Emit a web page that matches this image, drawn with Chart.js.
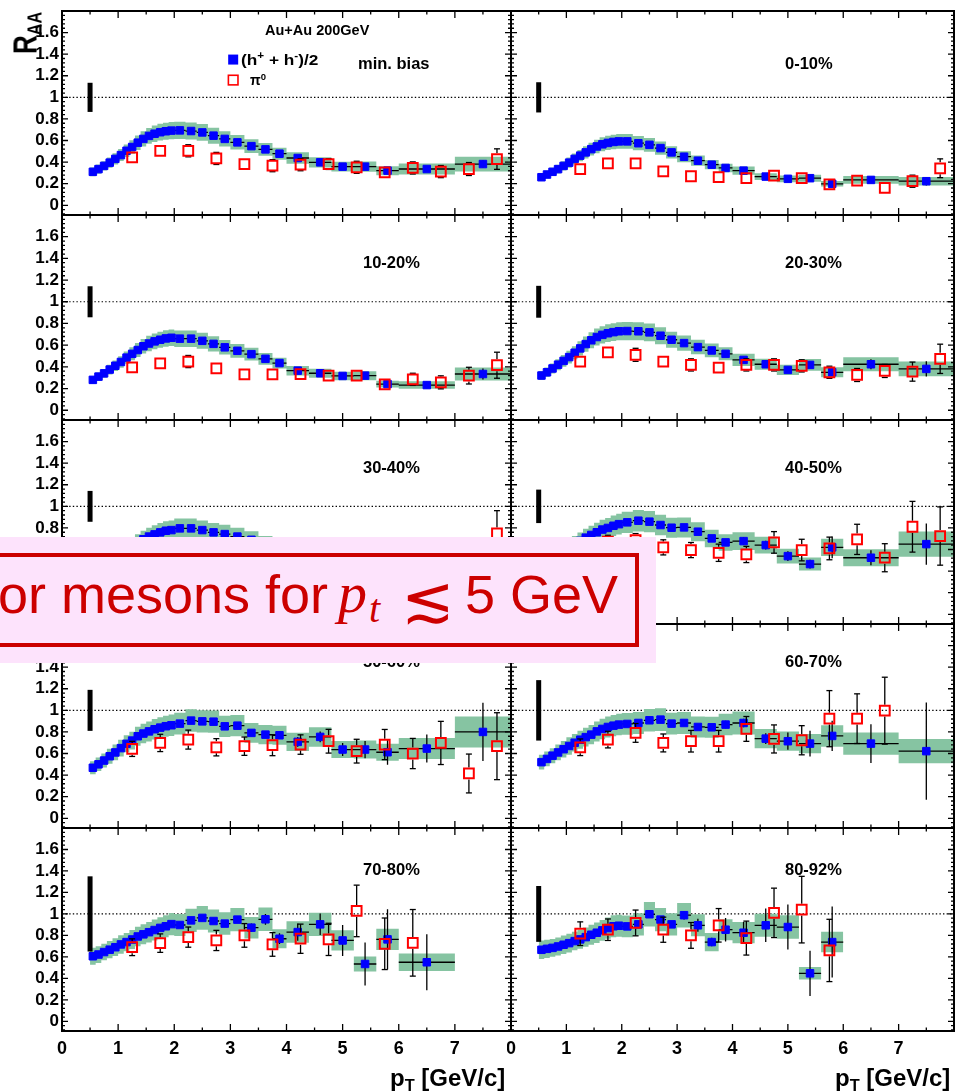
<!DOCTYPE html>
<html>
<head>
<meta charset="utf-8">
<title>R_AA Au+Au 200GeV</title>
<script src="https://cdn.jsdelivr.net/npm/chart.js@4.4.1/dist/chart.umd.min.js"></script>
<style>
  html, body { margin: 0; padding: 0; background: #fff; }
  #page { position: relative; width: 957px; height: 1092px; overflow: hidden; background: #fff;
          font-family: "Liberation Sans", Arial, Helvetica, sans-serif; }
  .pan { position: absolute; }
  .pan canvas { display: block; }
  .txt { position: absolute; white-space: nowrap; line-height: 1; font-weight: bold; color: #000; }
  .txt sup, .txt sub { font-size: 0.68em; vertical-align: 0; position: relative; }
  .txt sup { top: -0.55em; }
  .txt sub { top: 0.3em; }
  #note { position: absolute; left: 0; top: 537px; width: 656px; height: 126px; background: #fde3fc; }
  #note .frame { position: absolute; left: -30px; top: 16px; width: 669px; height: 94px;
                 border: 4px solid #cc0000; box-sizing: border-box; }
  #note span { position: absolute; white-space: nowrap; line-height: 1; color: #cc0000; }
</style>
</head>
<body>
<div id="page"></div>
<script>
// ---- charged hadron pT bins (centre, half width) and relative systematic uncertainty
const hPt        = [0.55,0.65,0.75,0.85,0.95,1.05,1.15,1.25,1.35,1.45,1.55,1.65,1.75,1.85,1.95,
                    2.1,2.3,2.5,2.7,2.9,3.125,3.375,3.625,3.875,4.2,4.6,5.0,5.4,5.8,6.5,7.5];
const hHalfWidth = [0.05,0.05,0.05,0.05,0.05,0.05,0.05,0.05,0.05,0.05,0.05,0.05,0.05,0.05,0.05,
                    0.1,0.1,0.1,0.1,0.1,0.125,0.125,0.125,0.125,0.2,0.2,0.2,0.2,0.2,0.5,0.5];
const hSysRel    = [0.13,0.125,0.12,0.12,0.12,0.12,0.115,0.115,0.115,0.115,0.115,0.115,0.115,0.115,0.115,
                    0.115,0.115,0.115,0.115,0.115,0.115,0.115,0.115,0.115,0.12,0.12,0.125,0.13,0.13,0.15,0.18];
// statistical errors of the hadrons are listed from pT = 3.125 on
const hStatFirst = 20;

// ---- neutral pion pT bins
const pi0Pt = [1.25,1.75,2.25,2.75,3.25,3.75,4.25,4.75,5.25,5.75,6.25,6.75,7.25,7.75];

// ---- centrality classes and normalisation uncertainty at R_AA = 1
const centralityLabels = ['min. bias','0-10%','10-20%','20-30%','30-40%','40-50%','50-60%','60-70%','70-80%','80-92%'];
const normErr = [0.135,0.14,0.143,0.147,0.143,0.155,0.19,0.28,0.35,0.26];

// ---- (h+ + h-)/2 R_AA
const hMinBias = [0.31,0.335,0.365,0.395,0.43,0.465,0.505,0.54,0.58,0.615,0.643,0.663,0.677,0.686,0.692,
                  0.694,0.688,0.675,0.645,0.615,0.583,0.548,0.518,0.478,0.438,0.398,0.358,0.358,0.321,0.336,0.382];
const h0010 = [0.26,0.285,0.31,0.335,0.365,0.395,0.43,0.46,0.49,0.52,0.545,0.565,0.578,0.587,0.592,
               0.592,0.575,0.56,0.53,0.49,0.45,0.413,0.376,0.346,0.321,0.266,0.245,0.251,0.199,0.235,0.223];
const h1020 = [0.28,0.31,0.34,0.375,0.41,0.445,0.485,0.52,0.555,0.59,0.615,0.635,0.65,0.662,0.668,
               0.66,0.66,0.64,0.612,0.58,0.548,0.517,0.474,0.435,0.365,0.341,0.316,0.319,0.241,0.232,0.334];
const h2030 = [0.32,0.35,0.385,0.42,0.455,0.49,0.53,0.57,0.61,0.645,0.675,0.695,0.71,0.72,0.728,
               0.73,0.728,0.718,0.687,0.65,0.619,0.582,0.551,0.52,0.464,0.424,0.372,0.418,0.35,0.424,0.381];
const h3040 = [0.38,0.415,0.45,0.49,0.53,0.565,0.6,0.635,0.665,0.695,0.72,0.74,0.759,0.774,0.78,
               0.796,0.796,0.78,0.759,0.743,0.72,0.69,0.65,0.62,0.57,0.53,0.5,0.47,0.45,0.48,0.5];
const h4050 = [0.43,0.47,0.51,0.545,0.58,0.62,0.65,0.68,0.71,0.735,0.76,0.785,0.80,0.82,0.835,
               0.852,0.867,0.858,0.827,0.802,0.805,0.765,0.703,0.666,0.678,0.641,0.539,0.465,0.62,0.524,0.65];
const h5060 = [0.468,0.50,0.535,0.575,0.61,0.65,0.69,0.72,0.76,0.785,0.805,0.825,0.84,0.853,0.862,
               0.877,0.905,0.898,0.895,0.852,0.858,0.791,0.775,0.769,0.708,0.754,0.637,0.637,0.612,0.646,0.80];
const h6070 = [0.52,0.55,0.58,0.61,0.64,0.67,0.70,0.728,0.752,0.775,0.805,0.828,0.846,0.858,0.868,
               0.874,0.883,0.908,0.914,0.877,0.883,0.846,0.843,0.868,0.883,0.738,0.714,0.692,0.763,0.692,0.622];
const h7080 = [0.606,0.622,0.645,0.667,0.69,0.716,0.738,0.762,0.79,0.81,0.83,0.85,0.87,0.885,0.905,
               0.897,0.94,0.963,0.934,0.91,0.947,0.872,0.95,0.769,0.831,0.903,0.753,0.534,0.763,0.55,null];
const h8092 = [0.666,0.675,0.684,0.697,0.713,0.728,0.747,0.763,0.784,0.806,0.825,0.847,0.868,0.885,0.89,
               0.884,0.903,0.997,0.947,0.903,0.988,0.894,0.738,0.853,0.825,0.894,0.878,0.447,0.738,null,null];

// statistical errors, pT = 3.125 ... 7.5
const hStatMinBias = [0.005,0.006,0.006,0.007,0.008,0.01,0.012,0.015,0.018,0.02,0.035];
const hStat0010 = [0.005,0.006,0.007,0.008,0.01,0.012,0.015,0.018,0.02,0.025,0.04];
const hStat1020 = [0.006,0.007,0.008,0.01,0.012,0.015,0.018,0.02,0.025,0.03,0.05];
const hStat2030 = [0.008,0.01,0.012,0.015,0.018,0.02,0.025,0.03,0.035,0.045,0.07];
const hStat3040 = [0.01,0.012,0.015,0.02,0.025,0.03,0.035,0.045,0.05,0.06,0.1];
const hStat4050 = [0.015,0.02,0.025,0.03,0.035,0.04,0.045,0.04,0.1,0.07,0.19];
const hStat5060 = [0.02,0.025,0.03,0.035,0.045,0.05,0.06,0.08,0.115,0.13,0.27];
const hStat6070 = [0.02,0.025,0.03,0.035,0.04,0.05,0.08,0.12,0.14,0.18,0.45];
const hStat7080 = [0.03,0.04,0.05,0.05,0.08,0.1,0.145,0.2,0.28,0.26,null];
const hStat8092 = [0.04,0.06,0.04,0.11,0.1,0.156,0.21,0.21,0.33,null,null];

// ---- pi0 R_AA and its errors
const pi0MinBias = [0.443,0.505,0.505,0.434,0.382,0.367,0.376,0.382,0.352,0.306,0.346,0.312,0.336,0.428];
const pi00010 = [0.336,0.388,0.388,0.315,0.269,0.26,0.251,0.275,0.251,0.193,0.229,0.162,0.223,0.343];
const pi01020 = [0.396,0.433,0.449,0.387,0.331,0.331,0.334,0.319,0.319,0.238,0.285,0.257,0.319,0.415];
const pi02030 = [0.449,0.533,0.511,0.449,0.418,0.393,0.418,0.418,0.409,0.35,0.325,0.362,0.356,0.474];
const pi03040 = [0.52,0.585,0.6,0.55,0.51,0.49,0.48,0.5,0.46,0.44,0.47,0.45,0.5,0.75];
const pi04050 = [0.6,0.672,0.688,0.62,0.595,0.57,0.554,0.666,0.595,0.61,0.694,0.524,0.811,0.725];
const pi05060 = [0.643,0.698,0.729,0.658,0.668,0.677,0.683,0.714,0.622,0.683,0.60,0.698,0.415,0.668];
const pi06070 = [0.658,0.729,0.791,0.698,0.714,0.714,0.828,0.735,0.723,0.923,0.923,0.997,null,null];
const pi07080 = [0.69,0.728,0.784,0.753,0.80,0.716,0.769,0.763,1.028,0.722,0.731,null,null,null];
const pi08092 = [0.816,0.853,0.916,0.853,0.80,0.894,0.775,1.01,1.04,0.66,null,null,null,null];

const pi0ErrMinBias = [0.02,0.03,0.056,0.056,0.03,0.056,0.056,0.05,0.056,0.04,0.056,0.056,0.06,0.095];
const pi0Err0010 = [0.01,0.01,0.01,0.01,0.01,0.01,0.01,0.015,0.02,0.02,0.03,0.03,0.056,0.087];
const pi0Err1020 = [0.01,0.015,0.056,0.02,0.015,0.02,0.02,0.03,0.03,0.03,0.056,0.06,0.077,0.12];
const pi0Err2030 = [0.02,0.03,0.06,0.03,0.056,0.03,0.056,0.056,0.056,0.056,0.06,0.06,0.088,0.135];
const pi0Err3040 = [0.03,0.035,0.04,0.04,0.05,0.05,0.06,0.07,0.08,0.09,0.11,0.13,0.15,0.21];
const pi0Err4050 = [0.05,0.06,0.06,0.07,0.07,0.08,0.075,0.1,0.1,0.105,0.14,0.13,0.235,0.27];
const pi0Err5060 = [0.07,0.08,0.088,0.08,0.085,0.097,0.09,0.11,0.11,0.14,0.14,0.2,0.18,0.31];
const pi0Err6070 = [0.077,0.077,0.087,0.083,0.1,0.1,0.115,0.13,0.135,0.26,0.23,0.31,null,null];
const pi0Err7080 = [0.078,0.086,0.094,0.094,0.11,0.11,0.136,0.15,0.24,0.24,0.31,null,null,null];
const pi0Err8092 = [0.11,0.1,0.12,0.117,0.12,0.156,0.158,0.23,0.31,0.29,null,null,null,null];

// ---- axis tick labels
const xTickLabels = ['0','1','2','3','4','5','6','7'];
const yTickLabels = ['0','0.2','0.4','0.6','0.8','1','1.2','1.4','1.6'];

// ---------------------------------------------------------------------------
const panels = [
  { h: hMinBias, hs: hStatMinBias, p: pi0MinBias, pe: pi0ErrMinBias },
  { h: h0010, hs: hStat0010, p: pi00010, pe: pi0Err0010 },
  { h: h1020, hs: hStat1020, p: pi01020, pe: pi0Err1020 },
  { h: h2030, hs: hStat2030, p: pi02030, pe: pi0Err2030 },
  { h: h3040, hs: hStat3040, p: pi03040, pe: pi0Err3040 },
  { h: h4050, hs: hStat4050, p: pi04050, pe: pi0Err4050 },
  { h: h5060, hs: hStat5060, p: pi05060, pe: pi0Err5060 },
  { h: h6070, hs: hStat6070, p: pi06070, pe: pi0Err6070 },
  { h: h7080, hs: hStat7080, p: pi07080, pe: pi0Err7080 },
  { h: h8092, hs: hStat8092, p: pi08092, pe: pi0Err8092 }
];

const page = document.getElementById('page');
const ROW_TOP = [11, 215, 420, 624, 828];
const ROW_H = [204, 205, 204, 204, 203];
const COL_L = [62, 511];
const COL_W = [449, 443];
const Y_MIN = -0.09, Y_MAX = 1.80;
const X_MIN = 0, X_MAX = 8.0;
const BLUE = '#0000ff', RED = '#ff0000', BAND = '#86c4a2';
const FONT = 'Liberation Sans';
const RED_HALF = 0.055;   // half size of the open pi0 marker in R_AA units

// inward ticks on all four sides plus the frame
const frameTicks = {
  id: 'frameTicks',
  afterDraw(chart, args, opts) {
    const { ctx, chartArea: a, scales } = chart;
    const sx = scales.x, sy = scales.y;
    ctx.save();
    ctx.strokeStyle = '#000';
    ctx.lineWidth = 1.3;
    ctx.beginPath();
    for (let k = 0; k <= 16; k++) {
      const v = k * 0.5;
      const px = sx.getPixelForValue(v);
      if (px < a.left - 1 || px > a.right + 1) continue;
      const len = k % 2 === 0 ? 7 : 3.5;
      ctx.moveTo(px, a.bottom); ctx.lineTo(px, a.bottom - len);
      ctx.moveTo(px, a.top); ctx.lineTo(px, a.top + len);
    }
    for (let k = -2; k <= 45; k++) {
      const v = k * 0.04;
      if (v < Y_MIN || v > Y_MAX + 1e-9) continue;
      const py = sy.getPixelForValue(v);
      const len = k % 5 === 0 ? 6 : 3;
      ctx.moveTo(a.left, py); ctx.lineTo(a.left + len, py);
      ctx.moveTo(a.right, py); ctx.lineTo(a.right - len, py);
    }
    ctx.stroke();
    ctx.lineWidth = 2;
    ctx.strokeRect(a.left, a.top, a.right - a.left, a.bottom - a.top);

    // legend symbols of the min. bias panel
    if (opts && opts.legend) {
      const bx = sx.getPixelForValue(3.05), by1 = sy.getPixelForValue(1.35), by2 = sy.getPixelForValue(1.16);
      ctx.fillStyle = BLUE;
      ctx.fillRect(bx - 5, by1 - 5, 10, 10);
      ctx.strokeStyle = RED;
      ctx.lineWidth = 1.6;
      ctx.strokeRect(bx - 4.8, by2 - 4.8, 9.6, 9.6);
    }
    ctx.restore();
  }
};

function bandEdge(vals, sign) {
  const pts = [];
  vals.forEach((v, i) => {
    if (v == null) return;
    const y = v + sign * v * hSysRel[i];
    pts.push({ x: hPt[i] - hHalfWidth[i], y }, { x: hPt[i] + hHalfWidth[i], y });
  });
  return pts;
}

function xErrLines(vals) {
  const pts = [];
  vals.forEach((v, i) => {
    if (v == null) return;
    pts.push({ x: hPt[i] - hHalfWidth[i], y: v }, { x: hPt[i] + hHalfWidth[i], y: v }, { x: hPt[i], y: null });
  });
  return pts;
}

function hStatLines(vals, stat) {
  const pts = [];
  vals.forEach((v, i) => {
    const e = i >= hStatFirst ? stat[i - hStatFirst] : null;
    if (v == null || !e) return;
    pts.push({ x: hPt[i], y: v - e }, { x: hPt[i], y: v + e }, { x: hPt[i], y: null });
  });
  return pts;
}

// pi0 error bars start outside the open marker
function pi0Bars(vals, errs) {
  const pts = [];
  vals.forEach((v, i) => {
    const e = errs[i];
    if (v == null || !e || e <= RED_HALF) return;
    const x = pi0Pt[i];
    pts.push({ x, y: v + RED_HALF }, { x, y: v + e }, { x, y: null });
    pts.push({ x, y: v - e }, { x, y: v - RED_HALF }, { x, y: null });
  });
  return pts;
}

function pi0Caps(vals, errs) {
  const pts = [];
  vals.forEach((v, i) => {
    const e = errs[i];
    if (v == null || !e || e < 0.045) return;
    pts.push({ x: pi0Pt[i], y: v + e }, { x: pi0Pt[i], y: v - e });
  });
  return pts;
}

function points(xs, vals) {
  const pts = [];
  vals.forEach((v, i) => { if (v != null) pts.push({ x: xs[i], y: v }); });
  return pts;
}

const lineBase = { type: 'line', showLine: true, pointRadius: 0, tension: 0, fill: false, spanGaps: false };

panels.forEach((pn, i) => {
  const row = Math.floor(i / 2), col = i % 2;
  const L = COL_L[col], T = ROW_TOP[row], W = COL_W[col], H = ROW_H[row];
  const isLeft = col === 0, isBottom = row === 4;
  const padL = isLeft ? L : 4, padR = 4, padT = 4, padB = isBottom ? 44 : 4;
  const cw = W + padL + padR, ch = H + padT + padB;

  const div = document.createElement('div');
  div.className = 'pan';
  div.style.left = (L - padL) + 'px';
  div.style.top = (T - padT) + 'px';
  div.style.width = cw + 'px';
  div.style.height = ch + 'px';
  const cv = document.createElement('canvas');
  cv.width = cw; cv.height = ch;
  div.appendChild(cv);
  page.appendChild(div);

  const datasets = [
    { type: 'scatter', data: points(pi0Pt, pn.p), pointStyle: 'rect', pointRadius: 6.9,
      borderColor: RED, backgroundColor: 'rgba(255,255,255,0)', borderWidth: 2, order: 1 },
    { type: 'scatter', data: pi0Caps(pn.p, pn.pe), pointStyle: 'line', pointRadius: 3,
      borderColor: '#000', borderWidth: 1.3, order: 2 },
    Object.assign({}, lineBase, { data: pi0Bars(pn.p, pn.pe), borderColor: '#000', borderWidth: 1.3, order: 3 }),
    { type: 'scatter', data: points(hPt, pn.h), pointStyle: 'rect', pointRadius: 5.3,
      borderColor: BLUE, backgroundColor: BLUE, borderWidth: 1, order: 4 },
    Object.assign({}, lineBase, { data: hStatLines(pn.h, pn.hs), borderColor: '#000', borderWidth: 1.3, order: 5 }),
    Object.assign({}, lineBase, { data: xErrLines(pn.h), borderColor: '#000', borderWidth: 1.3, order: 6 }),
    Object.assign({}, lineBase, { data: [{ x: 0.5, y: 1 - normErr[i] }, { x: 0.5, y: 1 + normErr[i] }],
      borderColor: '#000', borderWidth: 5, borderCapStyle: 'butt', order: 7 }),
    Object.assign({}, lineBase, { data: bandEdge(pn.h, 1), borderWidth: 0, borderColor: 'rgba(0,0,0,0)',
      backgroundColor: BAND, fill: '+1', order: 8 }),
    Object.assign({}, lineBase, { data: bandEdge(pn.h, -1), borderWidth: 0, borderColor: 'rgba(0,0,0,0)', order: 9 }),
    Object.assign({}, lineBase, { data: [{ x: X_MIN, y: 1 }, { x: X_MAX, y: 1 }],
      borderColor: '#000', borderWidth: 1.2, borderDash: [1.4, 2.2], order: 10 })
  ];

  new Chart(cv, {
    type: 'scatter',
    data: { datasets },
    options: {
      responsive: false,
      animation: false,
      events: [],
      layout: { autoPadding: false,
                padding: { left: isLeft ? 0 : padL, right: padR, top: padT, bottom: isBottom ? 0 : padB } },
      plugins: {
        legend: { display: false },
        tooltip: { enabled: false },
        frameTicks: { legend: i === 0 }
      },
      scales: {
        x: {
          type: 'linear', min: X_MIN, max: X_MAX, display: isBottom, position: 'bottom',
          grid: { display: false, drawTicks: false }, border: { display: false },
          afterBuildTicks: (ax) => { ax.ticks = xTickLabels.map(t => ({ value: parseFloat(t) })); },
          afterFit: (ax) => { if (isBottom) { ax.height = padB; ax.paddingLeft = 0; ax.paddingRight = 0; } },
          ticks: { autoSkip: false, maxRotation: 0, padding: 7, color: '#000',
                   font: { family: FONT, size: 18, weight: 'bold' },
                   callback: (v, idx) => xTickLabels[idx] }
        },
        y: {
          type: 'linear', min: Y_MIN, max: Y_MAX, display: isLeft, position: 'left',
          grid: { display: false, drawTicks: false }, border: { display: false },
          afterBuildTicks: (ax) => { ax.ticks = yTickLabels.map(t => ({ value: parseFloat(t) })); },
          afterFit: (ax) => { if (isLeft) { ax.width = padL; ax.paddingTop = 0; ax.paddingBottom = 0; } },
          ticks: { autoSkip: false, padding: 3, color: '#000',
                   font: { family: FONT, size: 17, weight: 'bold' },
                   callback: (v, idx) => yTickLabels[idx] }
        }
      }
    },
    plugins: [frameTicks]
  });
});

// ---- text
function addText(html, left, top, size, extra) {
  const d = document.createElement('div');
  d.className = 'txt';
  d.innerHTML = html;
  d.style.left = left + 'px';
  d.style.top = top + 'px';
  d.style.fontSize = size + 'px';
  if (extra) Object.assign(d.style, extra);
  page.appendChild(d);
  return d;
}

const LABEL_SIZE = 16.5;
const labelPos = [[358, 63.3], [785, 63.3], [363, 262.5], [785, 262.5], [363, 467.2], [785, 467.2],
                  [363, 661], [785, 660.8], [363, 868.7], [785, 868.7]];
centralityLabels.forEach((t, i) => {
  addText(t, labelPos[i][0], labelPos[i][1] - 0.49 * LABEL_SIZE, LABEL_SIZE);
});

addText('Au+Au 200GeV', 265, 30.5 - 0.49 * 14.5, 14.5);
addText('(h<sup>+</sup> + h<sup>-</sup>)/2', 241, 59.3 - 0.49 * 15, 15,
        { transformOrigin: '0 50%', transform: 'scaleX(1.15)' });
addText('&pi;<sup>0</sup>', 250, 80 - 0.49 * 14, 14);

// axis titles
addText('p<sub>T</sub> [GeV/c]', 390, 1066, 24);
addText('p<sub>T</sub> [GeV/c]', 835, 1066, 24);
addText('R<sub style="font-size:0.62em;top:0.25em;">AA</sub>', 9, 54, 26,
        { transformOrigin: '0 0', transform: 'rotate(-90deg) scale(1, 1.25)' });

// ---- highlighted remark
const note = document.createElement('div');
note.id = 'note';
note.innerHTML =
  '<div class="frame"></div>' +
  '<span style="right:328px;top:30px;font-family:\'Liberation Sans\';font-size:54px;">or mesons for</span>' +
  '<span style="left:338px;top:27px;font-family:\'Liberation Serif\';font-style:italic;font-size:58px;">p</span>' +
  '<span style="left:369px;top:52px;font-family:\'Liberation Serif\';font-style:italic;font-size:40px;">t</span>' +
  '<span style="left:401px;top:30px;font-family:\'DejaVu Sans\';font-size:64px;">&#x2272;</span>' +
  '<span style="left:465px;top:30px;font-family:\'Liberation Sans\';font-size:54px;">5 GeV</span>';
page.appendChild(note);
</script>
</body>
</html>
